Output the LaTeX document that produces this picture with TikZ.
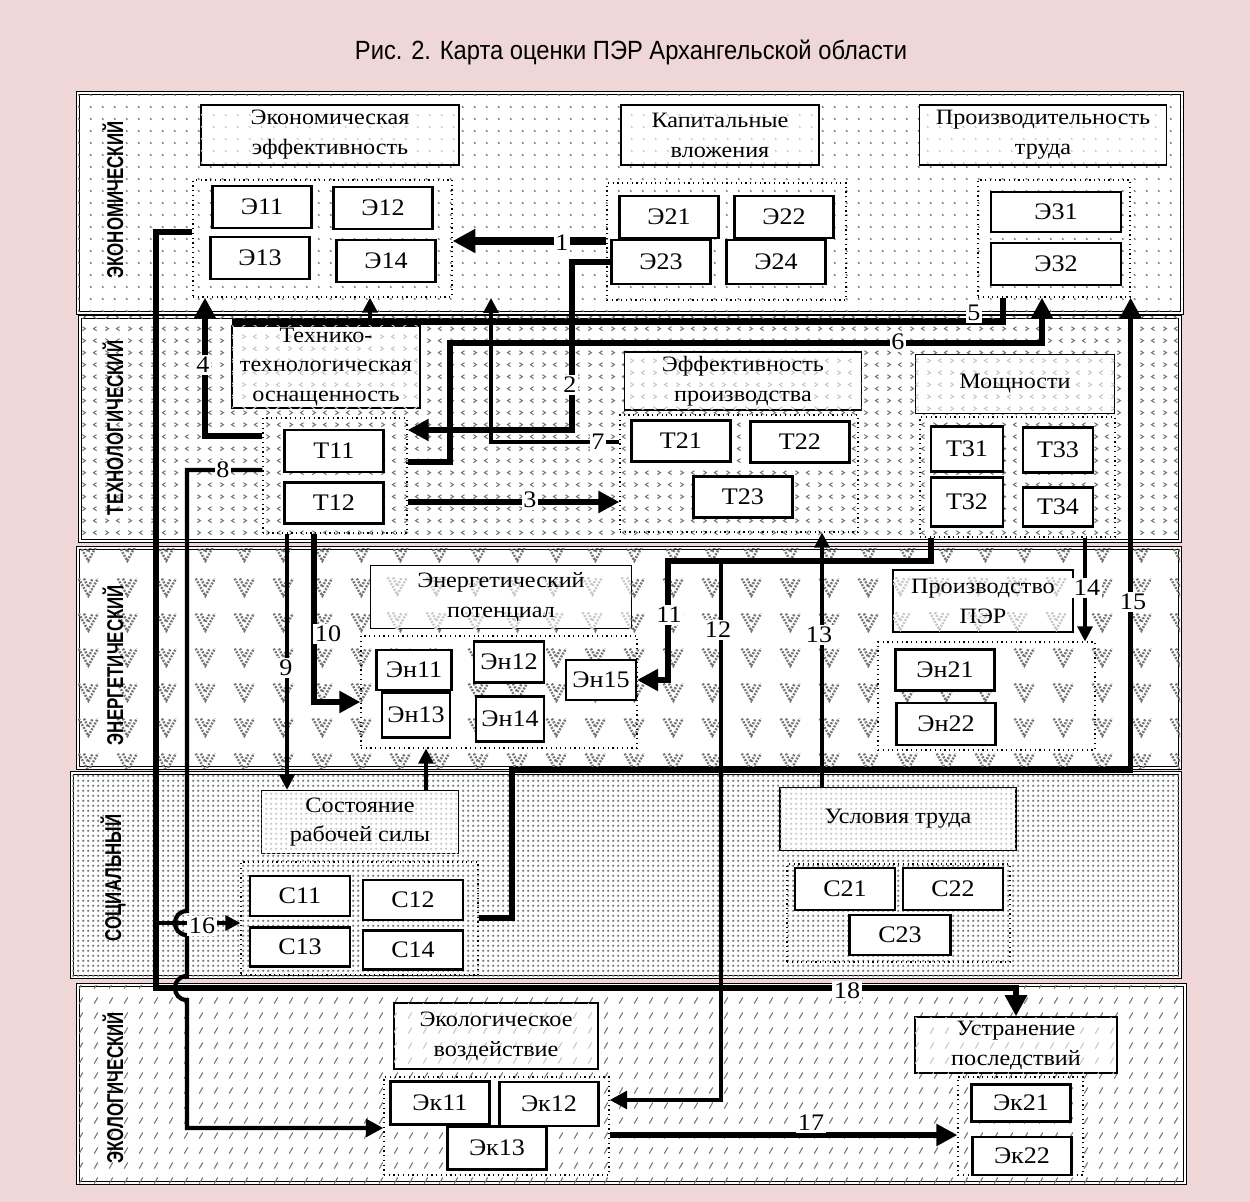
\documentclass[tikz,border=0pt]{standalone}
\usepackage{fontspec}
\setmainfont[FakeStretch=1.1]{Liberation Serif}
\newfontfamily\bandfont[FakeStretch=0.74]{Liberation Sans}
\newfontfamily\titlefont[FakeStretch=0.9]{Liberation Sans}
\usepackage{tikz}
\usetikzlibrary{arrows.meta,positioning,calc,patterns,fit}

\definecolor{pagepink}{RGB}{239,214,215}

% fill patterns of the five layers
\pgfdeclarepatternformonly{econdots}{\pgfqpoint{0pt}{0pt}}{\pgfqpoint{7pt}{7pt}}{\pgfqpoint{7pt}{7pt}}{%
  \pgfsetlinewidth{0.7pt}%
  \pgfpathmoveto{\pgfqpoint{3pt}{4pt}}\pgfpathlineto{\pgfqpoint{3.9pt}{3.2pt}}%
  \pgfusepath{stroke}}
\pgfdeclarepatternformonly{techchev}{\pgfqpoint{0pt}{0pt}}{\pgfqpoint{13pt}{7pt}}{\pgfqpoint{13pt}{7pt}}{%
  \pgfsetlinewidth{0.6pt}%
  \pgfpathmoveto{\pgfqpoint{3.2pt}{5pt}}\pgfpathlineto{\pgfqpoint{1.4pt}{3.8pt}}\pgfpathlineto{\pgfqpoint{3.2pt}{2.6pt}}%
  \pgfpathmoveto{\pgfqpoint{8.2pt}{5pt}}\pgfpathlineto{\pgfqpoint{10pt}{3.8pt}}\pgfpathlineto{\pgfqpoint{8.2pt}{2.6pt}}%
  \pgfusepath{stroke}}
\pgfdeclarepatternformonly{enermark}{\pgfqpoint{0pt}{0pt}}{\pgfqpoint{22pt}{20pt}}{\pgfqpoint{22pt}{20pt}}{%
  \pgfsetlinewidth{1.4pt}%
  \pgfsetdash{{1.1pt}{0.8pt}}{0pt}%
  \pgfpathmoveto{\pgfqpoint{1pt}{16pt}}\pgfpathlineto{\pgfqpoint{6.5pt}{6pt}}\pgfpathlineto{\pgfqpoint{12pt}{16pt}}%
  \pgfpathmoveto{\pgfqpoint{4pt}{16pt}}\pgfpathlineto{\pgfqpoint{6.5pt}{11pt}}\pgfpathlineto{\pgfqpoint{9pt}{16pt}}%
  \pgfusepath{stroke}}
\pgfdeclarepatternformonly{socdots}{\pgfqpoint{0pt}{0pt}}{\pgfqpoint{2.9pt}{2.9pt}}{\pgfqpoint{2.9pt}{2.9pt}}{%
  \pgfpathcircle{\pgfqpoint{1.45pt}{1.45pt}}{0.8pt}\pgfusepath{fill}}
\pgfdeclarepatternformonly{ecoslash}{\pgfqpoint{0pt}{0pt}}{\pgfqpoint{8.5pt}{8.5pt}}{\pgfqpoint{8.5pt}{8.5pt}}{%
  \pgfsetlinewidth{0.6pt}%
  \pgfpathmoveto{\pgfqpoint{3pt}{2.5pt}}\pgfpathlineto{\pgfqpoint{5pt}{6pt}}\pgfusepath{stroke}}

\begin{document}
\begin{tikzpicture}[x=0.02cm, y=-0.02cm,
  bandbg/.style={draw, line width=0.5pt, double=white, double distance=1.4pt, fill=white, postaction={pattern=#1, pattern color=black!55}},
  bandlbl/.style={rotate=90, font=\bandfont\bfseries\fontsize{13}{14}\selectfont},
  hdrbox/.style={draw, line width=0.8pt, fill=white, postaction={pattern=#1, pattern color=black!22}, align=center, inner sep=1pt},
  grpbox/.style={draw, dotted, line width=0.7pt, inner sep=0pt},
  itembox/.style={draw, line width=1.2pt, fill=white, minimum width=1.98cm, minimum height=0.84cm, inner sep=0pt, font=\fontsize{13.5}{17}\selectfont},
  lbl/.style={fill=white, inner sep=1pt, font=\fontsize{13.5}{17}\selectfont},
  lineB/.style={line width=3.2pt},
  arrA/.style={line width=4.2pt, -{Triangle[length=13pt, width=13pt]}},
  arrB/.style={line width=3.2pt, -{Triangle[length=12pt, width=12pt]}},
  arrM/.style={line width=2.4pt, -{Triangle[length=10pt, width=10pt]}},
  arrC/.style={line width=1.8pt, -{Triangle[length=8.5pt, width=8.5pt]}},
  every node/.style={font=\fontsize{12.5}{17}\selectfont}]
  \useasboundingbox (0,0) rectangle (1250,1202);
  \fill[pagepink] (0,0) rectangle (1250,1202);
  \node[font=\titlefont\fontsize{15}{17}\selectfont] (title) at (631,52) {Рис. 2. Карта оценки ПЭР Архангельской области};
  % layers
  \draw[bandbg=econdots] (78,93) rectangle (1182,313);
  \draw[bandbg=techchev] (80,317) rectangle (1180,541);
  \draw[bandbg=enermark] (78,548) rectangle (1180,768);
  \draw[bandbg=socdots] (72,773) rectangle (1180,977);
  \draw[bandbg=ecoslash] (78,985) rectangle (1185,1183);
  \node[bandlbl] (lEcon) at (113,200) {ЭКОНОМИЧЕСКИЙ};
  \node[bandlbl] (lTech) at (113,428) {ТЕХНОЛОГИЧЕСКИЙ};
  \node[bandlbl] (lEner) at (113,665) {ЭНЕРГЕТИЧЕСКИЙ};
  \node[bandlbl] (lSoc) at (113,878) {СОЦИАЛЬНЫЙ};
  \node[bandlbl] (lEco) at (113,1088) {ЭКОЛОГИЧЕСКИЙ};

  % economic layer
  \node[hdrbox=econdots, minimum width=5.16cm, minimum height=1.2cm] (hEcEff) at (330,135) {Экономическая\\эффективность};
  \node[hdrbox=econdots, minimum width=3.96cm, minimum height=1.2cm] (hCap) at (720,135) {Капитальные\\вложения};
  \node[hdrbox=econdots, minimum width=4.94cm, minimum height=1.2cm] (hProd) at (1043,135) {Производительность\\труда};
  \node[grpbox, fit={(193,180) (452,297)}] (gE1) {};
  \node[grpbox, fit={(607,183) (846,300)}] (gE2) {};
  \node[grpbox, fit={(978,180) (1130,297)}] (gE3) {};
  \node[itembox] (e11) at (262,207) {Э11};
  \node[itembox] (e12) at (383,208) {Э12};
  \node[itembox] (e13) at (260,258) {Э13};
  \node[itembox] (e14) at (386,261) {Э14};
  \node[itembox] (e21) at (669,217) {Э21};
  \node[itembox] (e22) at (784,217) {Э22};
  \node[itembox, minimum height=0.88cm] (e23) at (661,262) {Э23};
  \node[itembox, minimum height=0.88cm] (e24) at (776,262) {Э24};
  \node[itembox, minimum width=2.6cm, minimum height=0.8cm] (e31) at (1056,212) {Э31};
  \node[itembox, minimum width=2.6cm] (e32) at (1056,264) {Э32};

  % technological layer
  \node[hdrbox=techchev, minimum width=3.76cm, minimum height=1.64cm] (hTech) at (326,367) {Технико-\\технологическая\\оснащенность};
  \node[hdrbox=techchev, minimum width=4.74cm, minimum height=1.16cm] (hEff) at (743,381) {Эффективность\\производства};
  \node[hdrbox=techchev, minimum width=3.98cm, minimum height=1.18cm] (hPow) at (1015,384) {Мощности};
  \node[grpbox, fit={(263,418) (407,533)}] (gT1) {};
  \node[grpbox, fit={(620,415) (858,532)}] (gT2) {};
  \node[grpbox, fit={(920,417) (1115,537)}] (gT3) {};
  \node[itembox] (t11) at (334,451) {Т11};
  \node[itembox, minimum height=0.82cm] (t12) at (334,503) {Т12};
  \node[itembox, minimum height=0.82cm] (t21) at (681,441) {Т21};
  \node[itembox, minimum height=0.82cm] (t22) at (800,442) {Т22};
  \node[itembox, minimum height=0.82cm] (t23) at (743,497) {Т23};
  \node[itembox, minimum width=1.44cm, minimum height=0.9cm] (t31) at (967,449) {Т31};
  \node[itembox, minimum width=1.4cm, minimum height=0.9cm] (t33) at (1058,450) {Т33};
  \node[itembox, minimum width=1.44cm, minimum height=0.98cm] (t32) at (967,502) {Т32};
  \node[itembox, minimum width=1.4cm, minimum height=0.78cm] (t34) at (1058,507) {Т34};

  % energy layer
  \node[hdrbox=enermark, minimum width=5.22cm, minimum height=1.26cm] (hEnPot) at (501,597) {Энергетический\\потенциал};
  \node[hdrbox=enermark, minimum width=3.6cm, minimum height=1.24cm] (hPER) at (983,601) {Производство\\ПЭР};
  \node[grpbox, fit={(361,636) (637,748)}] (gEn1) {};
  \node[grpbox, fit={(878,642) (1095,750)}] (gEn2) {};
  \node[itembox, minimum width=1.5cm, minimum height=0.8cm] (en11) at (414,670) {Эн11};
  \node[itembox, minimum width=1.4cm, minimum height=0.82cm] (en12) at (509,662) {Эн12};
  \node[itembox, minimum width=1.4cm, minimum height=0.8cm] (en15) at (601,680) {Эн15};
  \node[itembox, minimum width=1.36cm, minimum height=0.9cm] (en13) at (416,715) {Эн13};
  \node[itembox, minimum width=1.36cm, minimum height=0.9cm] (en14) at (510,719) {Эн14};
  \node[itembox, minimum height=0.82cm] (en21) at (945,670) {Эн21};
  \node[itembox] (en22) at (946,724) {Эн22};

  % social layer
  \node[hdrbox=socdots, minimum width=3.94cm, minimum height=1.26cm] (hLab) at (360,822) {Состояние\\рабочей силы};
  \node[hdrbox=socdots, minimum width=4.72cm, minimum height=1.26cm] (hCond) at (898,819) {Условия труда};
  \node[grpbox, fit={(241,862) (478,975)}] (gS1) {};
  \node[grpbox, fit={(787,864) (1010,962)}] (gS2) {};
  \node[itembox, minimum width=2cm, minimum height=0.8cm] (s11) at (300,896) {С11};
  \node[itembox, minimum width=2cm, minimum height=0.8cm] (s12) at (413,900) {С12};
  \node[itembox, minimum width=2cm, minimum height=0.78cm] (s13) at (300,947) {С13};
  \node[itembox, minimum width=2cm, minimum height=0.78cm] (s14) at (413,950) {С14};
  \node[itembox, minimum width=2cm] (s21) at (845,889) {С21};
  \node[itembox, minimum width=2cm] (s22) at (953,889) {С22};
  \node[itembox, minimum width=2.02cm, minimum height=0.8cm] (s23) at (900,935) {С23};

  % ecological layer
  \node[hdrbox=ecoslash, minimum width=4.08cm, minimum height=1.32cm] (hEco) at (496,1036) {Экологическое\\воздействие};
  \node[hdrbox=ecoslash, minimum width=4.04cm, minimum height=1.12cm] (hElim) at (1016,1045) {Устранение\\последствий};
  \node[grpbox, fit={(384,1077) (609,1175)}] (gEk1) {};
  \node[grpbox, fit={(958,1077) (1083,1175)}] (gEk2) {};
  \node[itembox, minimum height=0.86cm] (k11) at (440,1103) {Эк11};
  \node[itembox, minimum height=0.88cm] (k12) at (549,1104) {Эк12};
  \node[itembox, minimum height=0.86cm] (k13) at (497,1148) {Эк13};
  \node[itembox, minimum height=0.74cm] (k21) at (1021,1103) {Эк21};
  \node[itembox, minimum height=0.76cm] (k22) at (1022,1156) {Эк22};

  % links
  \coordinate (c5) at (232,322);
  \coordinate (c7) at (491,298);
  \coordinate (c12) at (721,561);
  \coordinate (c16) at (156,923);
  \draw[arrA] (gE2.west |- 0,241) -- (gE1.east |- 0,241);
  \draw[arrB] (e23.west) -| (572,430) -- (gT1.east |- 0,430);
  \draw[arrB] (gT1.east |- 0,502) -- (gT2.west |- 0,502);
  \draw[arrB] (gT1.west |- 0,436) -| (gE1.south -| 205,0);
  \draw[lineB] (gE3.south -| 1003,0) |- (c5);
  \draw[arrC] (c5 -| 370,0) -- (gE1.south -| 370,0);
  \draw[arrB] (gT1.east |- 0,462) -| (450,343) -| (gE3.south -| 1042,0);
  \draw[arrC] (gT2.west |- 0,442) -| (c7);
  \draw[arrM] (gT1.west |- 0,470) -| (187,911)
    .. controls (171,911) and (171,935) .. (187,935) -- (187,976)
    .. controls (171,976) and (171,1000) .. (187,1000) |- (gEk1.west |- 0,1128);
  \draw[arrC] (gT1.south -| 287,0) -- (hLab.north -| 287,0);
  \draw[arrB] (gT1.south -| 314,0) |- (gEn1.west |- 0,702);
  \draw[arrB] (gT3.south -| 931,0) |- (668,561) |- (en15.east);
  \draw[arrM] (c12) |- (gEk1.east |- 0,1100);
  \draw[arrC] (hCond.north -| 822,0) -- (gT2.south -| 822,0);
  \draw[arrC] (gT3.south -| 1085,0) -- (gEn2.north -| 1085,0);
  \draw[arrB] (gS1.east |- 0,918) -| (512,770) -| (gE3.south east);
  \draw[arrC] (c16) -- (gS1.west |- c16);
  \draw[arrB] (gEk1.east |- 0,1135) -- (gEk2.west |- 0,1135);
  \draw[arrB] (gE1.west |- 0,232) -| (156,988) -| (hElim.north);
  \draw[arrC] (hLab.north -| 426,0) -- (gEn1.south -| 426,0);
  % link numbers
  \node[lbl] (n1) at (562,243) {1};
  \node[lbl] (n2) at (570,385) {2};
  \node[lbl] (n3) at (530,500) {3};
  \node[lbl] (n4) at (203,365) {4};
  \node[lbl] (n5) at (974,313) {5};
  \node[lbl] (n6) at (898,342) {6};
  \node[lbl] (n7) at (598,442) {7};
  \node[lbl] (n8) at (223,470) {8};
  \node[lbl] (n9) at (286,668) {9};
  \node[lbl] (n10) at (328,634) {10};
  \node[lbl] (n11) at (669,615) {11};
  \node[lbl] (n12) at (718,630) {12};
  \node[lbl] (n13) at (819,635) {13};
  \node[lbl] (n14) at (1087,588) {14};
  \node[lbl] (n15) at (1133,602) {15};
  \node[lbl] (n16) at (202,926) {16};
  \node[lbl] (n17) at (811,1123) {17};
  \node[lbl] (n18) at (847,991) {18};
\end{tikzpicture}
\end{document}
